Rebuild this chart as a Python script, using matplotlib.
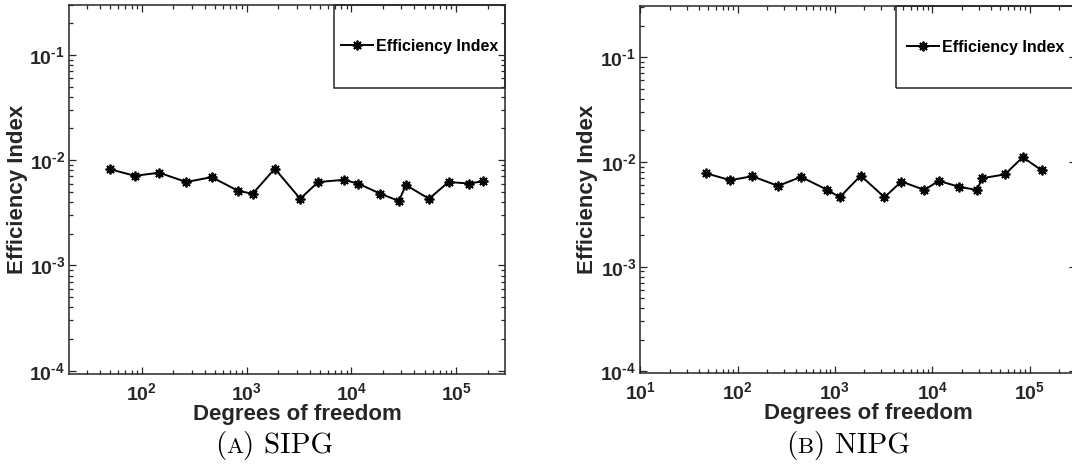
import numpy as np
import matplotlib
matplotlib.use("Agg")
import matplotlib.pyplot as plt
from matplotlib.patches import Rectangle
from matplotlib.ticker import LogLocator, FuncFormatter, NullFormatter

plt.rcParams["font.family"] = "Liberation Sans"
plt.rcParams["font.weight"] = "bold"
plt.rcParams["mathtext.fontset"] = "custom"
plt.rcParams["mathtext.rm"] = "Liberation Sans:bold"
plt.rcParams["mathtext.it"] = "Liberation Sans:bold"
plt.rcParams["mathtext.bf"] = "Liberation Sans:bold"

# SIPG panel
dof_sipg = [50, 86, 147, 266, 466, 834, 1145, 1860, 3250, 4820, 8430,
            11570, 18900, 28400, 33100, 55000, 84500, 133000, 178600]
eff_sipg = [0.0082, 0.0071, 0.0076, 0.0062, 0.0069, 0.0051, 0.0048, 0.0083,
            0.0043, 0.0062, 0.0065, 0.0060, 0.0048, 0.0041, 0.0058, 0.0043,
            0.0062, 0.0060, 0.0063]

# NIPG panel
dof_nipg = [47, 84, 142, 260, 448, 838, 1120, 1840, 3230, 4820, 8320,
            11650, 18700, 28600, 32800, 55700, 85100, 133400]
eff_nipg = [0.0078, 0.0067, 0.0073, 0.0059, 0.0072, 0.0054, 0.0046, 0.0074,
            0.0046, 0.0065, 0.0054, 0.0066, 0.0058, 0.0054, 0.0070, 0.0076,
            0.0111, 0.0083]

W, H = 1072, 472
fig = plt.figure(figsize=(W / 100, H / 100), dpi=100)
fig.patch.set_facecolor("white")

def px_axes(left, top, right, bottom):
    return fig.add_axes([left / W, 1 - bottom / H, (right - left) / W, (bottom - top) / H])

ax1 = px_axes(69.3, 4.7, 504.7, 374)
ax2 = px_axes(640.3, 5.7, 1076, 373.3)

dark = "#262626"
logfmt = FuncFormatter(lambda v, p: r"$10^{\text{-}%d}$" % abs(round(np.log10(v)))
                       if v < 1 else r"$10^{%d}$" % round(np.log10(v)))

def style(ax, xlim, ylim, legend_left):
    ax.set_xscale("log")
    ax.set_yscale("log")
    ax.set_xlim(*xlim)
    ax.set_ylim(*ylim)
    ax.xaxis.set_major_locator(LogLocator(base=10, numticks=10))
    ax.xaxis.set_minor_locator(LogLocator(base=10, subs=np.arange(2, 10), numticks=20))
    ax.yaxis.set_major_locator(LogLocator(base=10, numticks=10))
    ax.yaxis.set_minor_locator(LogLocator(base=10, subs=np.arange(2, 10), numticks=20))
    ax.xaxis.set_major_formatter(logfmt)
    ax.yaxis.set_major_formatter(logfmt)
    ax.xaxis.set_minor_formatter(NullFormatter())
    ax.yaxis.set_minor_formatter(NullFormatter())
    ax.tick_params(which="both", direction="in", top=True, right=True,
                   color=dark, labelcolor=dark, width=0.9)
    ax.tick_params(which="major", length=5)
    ax.tick_params(which="minor", length=3)
    ax.tick_params(axis="x", which="major", labelsize=14, pad=6)
    ax.tick_params(axis="y", which="major", labelsize=14, pad=3)
    for s in ax.spines.values():
        s.set_color(dark)
        s.set_linewidth(1.1)
    ax.set_xlabel("Degrees of freedom", fontsize=16, fontweight="bold", color=dark)
    ax.set_ylabel("Efficiency Index", fontsize=16, fontweight="bold", color=dark)
    ax.xaxis.set_label_coords(0.5 + 10 / 435.5, -0.082)
    ax.yaxis.set_label_coords(-0.096, 0.5)
    # legend box (MATLAB style, tall box in upper right)
    x0 = legend_left
    y0 = 1 - (88 - 5) / 369
    ax.add_patch(Rectangle((x0, y0), 1 - x0, 1 - y0, transform=ax.transAxes,
                           fill=False, edgecolor=dark, linewidth=1.1, clip_on=False, zorder=5))
    return x0, y0

marker = (8, 2, 0)
ax1.plot(dof_sipg, eff_sipg, color="black", lw=1.4, marker=marker, ms=7, mew=1.3,
         label="Efficiency Index")
ax2.plot(dof_nipg, eff_nipg, color="black", lw=1.4, marker=marker, ms=7, mew=1.3,
         label="Efficiency Index")

l1 = style(ax1, (20.4, 2.9e5), (9.3e-5, 0.3), (334 - 69.3) / (504.7 - 69.3))
l2 = style(ax2, (10, 3e5), (9.6e-5, 0.31), (896 - 640.3) / (1076 - 640.3))

ax1.legend(loc="center", bbox_to_anchor=(l1[0], l1[1], 1 - l1[0], 1 - l1[1]),
           frameon=False, handlelength=2.0, handletextpad=0.2,
           prop={"weight": "bold", "size": 11.5})
ax2.legend(loc="center left", bbox_to_anchor=(l2[0], l2[1], 1 - l2[0], 1 - l2[1]),
           frameon=False, handlelength=2.0, handletextpad=0.2, borderaxespad=0.3,
           prop={"weight": "bold", "size": 11.5})


def caption(xc, y_base, letter, name, size=21):
    parts = [("(", size), (letter, size * 0.78), (") " + name, size)]
    texts = [fig.text(0, y_base / H, s, fontsize=fs, family="cmr10", va="baseline",
                      fontweight="normal", color="black") for s, fs in parts]
    fig.canvas.draw()
    r = fig.canvas.get_renderer()
    widths = [t.get_window_extent(r).width for t in texts]
    x = xc - sum(widths) / 2
    for t, w in zip(texts, widths):
        t.set_x(x / W)
        x += w


caption(274, H - 453, "A", "SIPG")
caption(848, H - 453, "B", "NIPG")

fig.savefig("out.png", dpi=100)
